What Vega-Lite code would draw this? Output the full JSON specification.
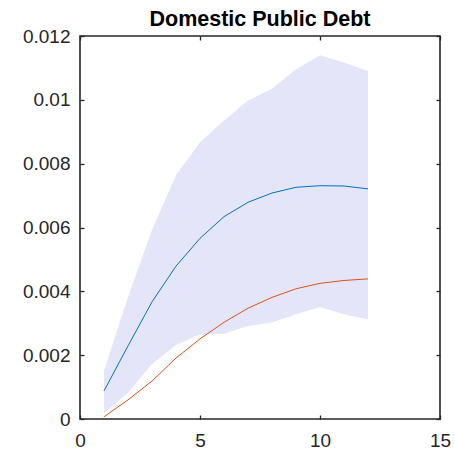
{
  "$schema": "https://vega.github.io/schema/vega-lite/v6.json",
  "autosize": "none",
  "padding": {"left": 80, "top": 36, "right": 15, "bottom": 34},
  "width": 360,
  "height": 383,
  "title": {
    "text": "Domestic Public Debt",
    "font": "Liberation Sans",
    "fontSize": 21.5,
    "fontWeight": "bold",
    "color": "#000000",
    "offset": -3,
    "anchor": "middle"
  },
  "data": {
    "values": [
      {"h": 1, "resp": 0.00088, "alt": 0.00007, "lo": 0.00018, "hi": 0.00151},
      {"h": 2, "resp": 0.00229, "alt": 0.00060, "lo": 0.00082, "hi": 0.00382},
      {"h": 3, "resp": 0.00367, "alt": 0.00119, "lo": 0.00172, "hi": 0.00592},
      {"h": 4, "resp": 0.00479, "alt": 0.00191, "lo": 0.00232, "hi": 0.00764},
      {"h": 5, "resp": 0.00566, "alt": 0.00251, "lo": 0.00265, "hi": 0.00867},
      {"h": 6, "resp": 0.00634, "alt": 0.00303, "lo": 0.00267, "hi": 0.00935},
      {"h": 7, "resp": 0.00679, "alt": 0.00347, "lo": 0.00291, "hi": 0.00998},
      {"h": 8, "resp": 0.00708, "alt": 0.00381, "lo": 0.00302, "hi": 0.01035},
      {"h": 9, "resp": 0.00726, "alt": 0.00408, "lo": 0.00328, "hi": 0.01096},
      {"h": 10, "resp": 0.00731, "alt": 0.00425, "lo": 0.00350, "hi": 0.01140},
      {"h": 11, "resp": 0.00730, "alt": 0.00434, "lo": 0.00328, "hi": 0.01117},
      {"h": 12, "resp": 0.00721, "alt": 0.00439, "lo": 0.00312, "hi": 0.01090}
    ]
  },
  "layer": [
    {
      "mark": {"type": "area", "color": "#E5E5FA", "opacity": 1},
      "encoding": {
        "x": {
          "field": "h", "type": "quantitative",
          "scale": {"domain": [0, 15], "nice": false},
          "axis": {"values": [0, 5, 10, 15], "title": null, "orient": "bottom", "labelPadding": 16}
        },
        "y": {
          "field": "lo", "type": "quantitative",
          "scale": {"domain": [0, 0.012], "nice": false, "zero": false},
          "axis": {"values": [0, 0.002, 0.004, 0.006, 0.008, 0.01, 0.012], "format": "~g", "title": null, "orient": "left", "labelPadding": 14}
        },
        "y2": {"field": "hi"}
      }
    },
    {
      "mark": {"type": "line", "color": "#0072BD", "strokeWidth": 1},
      "encoding": {
        "x": {"field": "h", "type": "quantitative", "axis": null},
        "y": {"field": "resp", "type": "quantitative", "axis": null}
      }
    },
    {
      "mark": {"type": "line", "color": "#D95319", "strokeWidth": 1},
      "encoding": {
        "x": {"field": "h", "type": "quantitative", "axis": null},
        "y": {"field": "alt", "type": "quantitative", "axis": null}
      }
    },
    {
      "mark": {"type": "point", "opacity": 0},
      "encoding": {
        "x": {
          "field": "h", "type": "quantitative",
          "axis": {"values": [0, 5, 10, 15], "title": null, "orient": "top", "labels": false, "labelPadding": 0}
        },
        "y": {
          "field": "resp", "type": "quantitative",
          "axis": {"values": [0, 0.002, 0.004, 0.006, 0.008, 0.01, 0.012], "title": null, "orient": "right", "labels": false, "labelPadding": 0}
        }
      }
    }
  ],
  "resolve": {"axis": {"x": "independent", "y": "independent"}},
  "config": {
    "view": {"stroke": "#262626", "strokeWidth": 1.6},
    "axis": {
      "domain": false,
      "grid": false,
      "ticks": true,
      "tickSize": -4,
      "tickColor": "#262626",
      "tickWidth": 1.3,
      "labelFont": "Liberation Sans",
      "labelFontSize": 19,
      "labelColor": "#262626",
      "labelFlush": false,
      "labelOverlap": false
    }
  }
}
